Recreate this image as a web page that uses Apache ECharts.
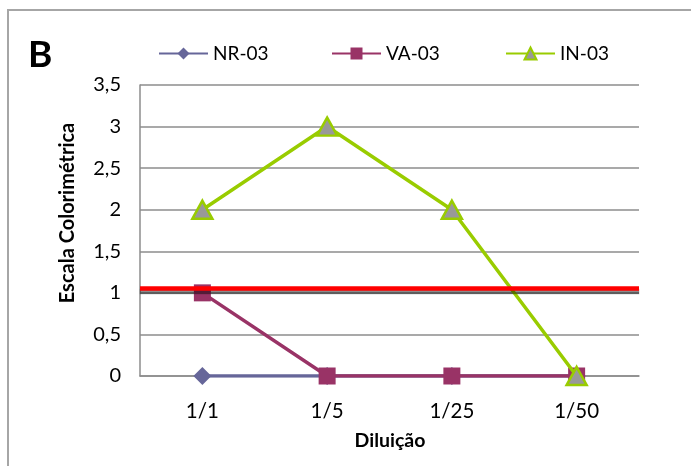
<!DOCTYPE html>
<html>
<head>
<meta charset="utf-8">
<script src="https://cdn.jsdelivr.net/npm/echarts@6/dist/echarts.min.js"></script>
<style>
  html, body { margin: 0; padding: 0; background: #fff; }
  #chart { width: 691px; height: 466px; }
</style>
</head>
<body>
<div id="chart"></div>
<script>
// Diluições testadas e leitura na escala colorimétrica
const diluicoes = ['1/1', '1/5', '1/25', '1/50'];
const nr03 = [0, 0, 0, 0];
const va03 = [1, 0, 0, 0];
const in03 = [2, 3, 2, 0];
// Linha de corte (ponto de positividade)
const limiteCorte = 1.05;
// Eixo Y
const yMin = 0, yMax = 3.5, yPasso = 0.5;

const FONTE = 'Lato, "Open Sans", sans-serif';
const chart = echarts.init(document.getElementById('chart'), null, { renderer: 'canvas' });

const legendaBase = (nome, x) => ({
  data: [nome],
  left: x,
  top: 39,
  itemWidth: 49,
  itemHeight: 15,
  itemGap: 6,
  textStyle: { fontFamily: FONTE, fontSize: 19, color: '#000' }
});

chart.setOption({
  animation: false,
  backgroundColor: '#fff',
  textStyle: { fontFamily: FONTE },
  grid: { left: 140, right: 52, top: 85, bottom: 90, containLabel: false },
  legend: [
    legendaBase('NR-03', 153),
    legendaBase('VA-03', 326),
    legendaBase('IN-03', 500)
  ],
  graphic: [
    {
      type: 'rect',
      shape: { x: 8, y: 10, width: 760, height: 520 },
      style: { fill: 'none', stroke: '#a6a6a6', lineWidth: 2 },
      silent: true
    },
    {
      type: 'text',
      left: 28, top: 37,
      style: { text: 'B', font: 'bold 37px ' + FONTE, fill: '#000' }
    },
    {
      type: 'text',
      x: 68, y: 213,
      rotation: Math.PI / 2,
      style: {
        text: 'Escala Colorimétrica',
        font: 'bold 20px ' + FONTE,
        fill: '#000',
        align: 'center',
        verticalAlign: 'middle'
      }
    },
    {
      type: 'text',
      x: 390, y: 441,
      style: {
        text: 'Diluição',
        font: 'bold 19.5px ' + FONTE,
        fill: '#000',
        align: 'center',
        verticalAlign: 'middle'
      }
    }
  ],
  xAxis: {
    type: 'category',
    data: diluicoes,
    boundaryGap: true,
    axisLine: { show: true, lineStyle: { color: '#8c8c8c', width: 1.5 } },
    axisTick: { show: false },
    axisLabel: { margin: 25, fontSize: 20.5, color: '#000', fontFamily: FONTE },
    splitLine: { show: false }
  },
  yAxis: {
    type: 'value',
    min: yMin,
    max: yMax,
    interval: yPasso,
    axisLine: { show: true, lineStyle: { color: '#8c8c8c', width: 1.5 } },
    axisTick: { show: false },
    axisLabel: {
      margin: 19,
      fontSize: 20,
      color: '#000',
      fontFamily: FONTE,
      formatter: v => String(v).replace('.', ',')
    },
    splitLine: { show: true, lineStyle: { color: '#8c8c8c', width: 1.5 } }
  },
  series: [
    {
      name: 'NR-03',
      type: 'line',
      data: nr03,
      symbol: 'diamond',
      symbolSize: [18, 18],
      color: '#666699',
      lineStyle: { width: 3.5, color: '#666699' },
      itemStyle: { color: '#666699' },
      z: 2
    },
    {
      name: 'VA-03',
      type: 'line',
      data: va03,
      symbol: 'rect',
      symbolSize: 17,
      color: '#993366',
      lineStyle: { width: 3.5, color: '#993366' },
      itemStyle: { color: '#993366' },
      z: 3
    },
    {
      name: 'IN-03',
      type: 'line',
      data: in03,
      symbol: 'triangle',
      symbolSize: [20, 18],
      color: '#99cc00',
      lineStyle: { width: 3.5, color: '#99cc00' },
      itemStyle: { color: '#999999', borderColor: '#99cc00', borderWidth: 2.5 },
      z: 4
    },
    {
      name: 'Corte',
      type: 'line',
      data: [],
      z: 6,
      markLine: {
        silent: true,
        symbol: ['none', 'none'],
        label: { show: false },
        lineStyle: {
          color: '#ff0000',
          width: 4.5,
          type: 'solid',
          shadowColor: 'rgba(0,0,0,0.45)',
          shadowOffsetY: 3,
          shadowBlur: 1
        },
        data: [{ yAxis: limiteCorte }]
      }
    }
  ]
});
</script>
</body>
</html>
